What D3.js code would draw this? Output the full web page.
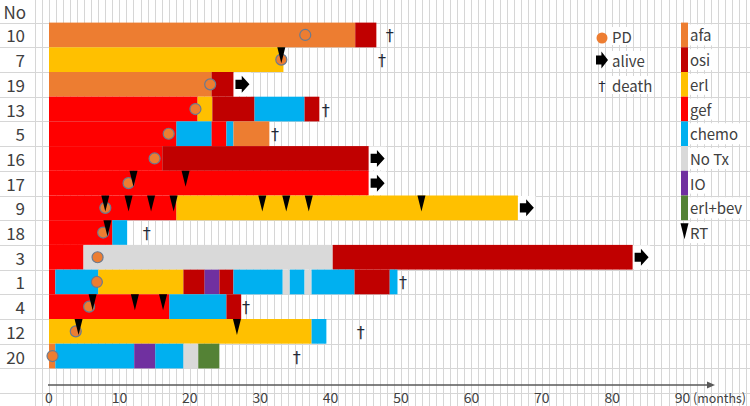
<!DOCTYPE html>
<html><head><meta charset="utf-8">
<script src="https://cdn.jsdelivr.net/npm/d3@7"></script>
<style>body{margin:0;background:#fff}svg{display:block}</style>
</head><body><svg id="c" width="750" height="406"></svg>
<script>
// ---- data ----
const patients = ["10","7","19","13","5","16","17","9","18","3","1","4","12","20"];
const treatments = ["afa","osi","erl","gef","chemo","No Tx","IO","erl+bev"];
const segments = [
  ["10","afa",0,43.5],["10","osi",43.5,46.5],
  ["7","erl",0,33.3],
  ["19","afa",0,23.1],["19","osi",23.1,26.2],
  ["13","gef",0,21.1],["13","erl",21.1,23.2],["13","osi",23.2,29.2],["13","chemo",29.2,36.3],["13","osi",36.3,38.4],
  ["5","gef",0,18.1],["5","chemo",18.1,23.1],["5","gef",23.1,25.2],["5","chemo",25.2,26.2],["5","afa",26.2,31.3],
  ["16","gef",0,16.1],["16","osi",16.1,45.4],
  ["17","gef",0,45.4],
  ["9","gef",0,18.1],["9","erl",18.1,66.6],
  ["18","gef",0,9],["18","chemo",9,11.1],
  ["3","gef",0,4.9],["3","No Tx",4.9,40.3],["3","osi",40.3,82.9],
  ["1","gef",0,0.9],["1","chemo",0.9,7],["1","erl",7,19.1],["1","osi",19.1,22.1],["1","IO",22.1,24.2],["1","osi",24.2,26.2],
  ["1","chemo",26.2,33.2],["1","No Tx",33.2,34.2],["1","chemo",34.2,36.3],["1","No Tx",36.3,37.3],["1","chemo",37.3,43.4],
  ["1","osi",43.4,48.4],["1","chemo",48.4,49.5],
  ["4","gef",0,17.1],["4","chemo",17.1,25.2],["4","osi",25.2,27.3],
  ["12","erl",0,37.3],["12","chemo",37.3,39.4],
  ["20","afa",0,0.9],["20","chemo",0.9,12.1],["20","IO",12.1,15.1],["20","chemo",15.1,19.1],["20","No Tx",19.1,21.2],["20","erl+bev",21.2,24.2]
];
const pdEvents = [["10",36.4],["7",33],["19",22.9],["13",20.8],["5",17],["16",15],["17",11.3],["9",8],["18",7.7],["3",6.9],["1",6.8],["4",5.7],["12",3.8],["20",0.5]];
const rtEvents = [["7",33],["17",12],["17",19.4],["9",8],["9",11.3],["9",14.5],["9",17.7],["9",30.3],["9",33.7],["9",36.9],["9",52.9],["18",8.3],["4",6.2],["4",12.2],["4",16.2],["12",4.2],["12",26.7]];
const aliveEvents = [["19",26.2],["16",45.4],["17",45.4],["9",66.6],["3",82.9]];
const deathEvents = [["10",48.4],["7",47.3],["13",39.3],["5",32.1],["18",13.9],["1",50.3],["4",28],["12",44.3],["20",35.2]];
const xTicks = [0,10,20,30,40,50,60,70,80,90];

// ---- styles ----
const colorList = ["#ED7D31","#C00000","#FFC000","#FF0000","#00B0F0","#D9D9D9","#7030A0","#548235"];
const color = d3.scaleOrdinal().domain(treatments).range(colorList);
const FONT = "'Noto Sans CJK JP','Noto Sans',sans-serif";
const TXT = "#404040";
const DAG = "#1f2937";

const svg = d3.select("#c");
const x = d3.scaleLinear().domain([0,90]).range([49,682.6]);
const y = d3.scaleBand().domain(patients).range([22.6, 22.6 + 24.7*patients.length]).padding(0);
const rowH = y.bandwidth();
const cy = p => y(p) + rowH/2;

// grid
const grid = svg.append("g");
const step = x(1) - x(0);
for (let k = -2; k <= 100; k++) {
  const gx = Math.round(x(0) + step*k) + 0.5;
  if (gx > 750) break;
  grid.append("line").attr("x1",gx).attr("x2",gx).attr("y1",0).attr("y2",406).attr("stroke","#d6d6d6").attr("stroke-width",1);
}
for (let k = 0; k <= 16; k++) {
  const gy = Math.round(22.6 + 24.7*k) + 0.5;
  if (gy > 406) break;
  grid.append("line").attr("x1",0).attr("x2",750).attr("y1",gy).attr("y2",gy).attr("stroke","#d6d6d6").attr("stroke-width",1);
}

// row labels
svg.append("text").attr("x",26).attr("y",11).attr("text-anchor","end").attr("dominant-baseline","central")
  .attr("font-family",FONT).attr("font-size",17).attr("fill",TXT).text("No");
svg.append("g").selectAll("text").data(patients).join("text")
  .attr("x",25).attr("y",d=>cy(d)).attr("text-anchor","end").attr("dominant-baseline","central")
  .attr("font-family",FONT).attr("font-size",17).attr("fill",TXT).text(d=>d);

// bars
svg.append("g").selectAll("rect").data(segments).join("rect")
  .attr("x",d=>x(d[2])).attr("width",d=>x(d[3])-x(d[2]))
  .attr("y",d=>y(d[0])).attr("height",rowH)
  .attr("fill",d=>color(d[1]));

// PD circles
svg.append("g").selectAll("circle").data(pdEvents).join("circle")
  .attr("cx",d=>x(d[1])).attr("cy",d=>cy(d[0])).attr("r",5.5)
  .attr("fill","#ED7D31").attr("stroke","#6b7a8f").attr("stroke-width",1.2);

// RT triangles
svg.append("g").selectAll("path").data(rtEvents).join("path")
  .attr("d",d=>{const tx=x(d[1]), ty=y(d[0]); return `M${tx-4},${ty}L${tx+4},${ty}L${tx},${ty+16}Z`;})
  .attr("fill","#000");

// alive arrows
const arrowPath = (ax, ay, w, h) => {
  const sh = h*0.27, hw = w*0.45;
  return `M${ax},${ay-sh}L${ax+hw},${ay-sh}L${ax+hw},${ay-h/2}L${ax+w},${ay}L${ax+hw},${ay+h/2}L${ax+hw},${ay+sh}L${ax},${ay+sh}Z`;
};
const alive = svg.append("g");
alive.selectAll("rect").data(aliveEvents).join("rect")
  .attr("x",d=>x(d[1])+0.5).attr("y",d=>y(d[0])+0.5).attr("width",17).attr("height",rowH-1).attr("fill","#fff");
alive.selectAll("path").data(aliveEvents).join("path")
  .attr("d",d=>arrowPath(x(d[1])+2, cy(d[0]), 14, 17)).attr("fill","#000");

// death daggers
svg.append("g").selectAll("text").data(deathEvents).join("text")
  .attr("x",d=>x(d[1])).attr("y",d=>cy(d[0])+1).attr("text-anchor","middle").attr("dominant-baseline","central")
  .attr("font-family","'DejaVu Sans',sans-serif").attr("font-size",16).attr("fill",DAG).text("†");

// x axis
const axY = 385;
svg.append("line").attr("x1",48).attr("x2",708).attr("y1",axY).attr("y2",axY).attr("stroke","#595959").attr("stroke-width",1.3);
svg.append("path").attr("d",`M707,${axY-3.5}L715,${axY}L707,${axY+3.5}Z`).attr("fill","#595959");
svg.append("g").selectAll("text").data(xTicks).join("text")
  .attr("x",d=>x(d)).attr("y",397).attr("text-anchor","middle").attr("dominant-baseline","central")
  .attr("font-family",FONT).attr("font-size",14).attr("fill",TXT).text(d=>d);
svg.append("text").attr("x",693).attr("y",397).attr("dominant-baseline","central")
  .attr("font-family",FONT).attr("font-size",13).attr("textLength",53).attr("lengthAdjust","spacingAndGlyphs")
  .attr("fill",TXT).text("(months)");

// legend: symbols
const lg = svg.append("g");
const symItems = [["PD",36],["alive",60],["death",85]];
lg.selectAll("rect.bg").data(symItems).join("rect").attr("class","bg")
  .attr("x",610).attr("y",d=>d[1]-9).attr("width",d=>d[0]==="death"?44:(d[0]==="PD"?22:36)).attr("height",18).attr("fill","#fff");
lg.selectAll("text.sym").data(symItems).join("text").attr("class","sym")
  .attr("x",612).attr("y",d=>d[1]).attr("dominant-baseline","central")
  .attr("font-family",FONT).attr("font-size",15).attr("fill",TXT).text(d=>d[0]);
lg.append("circle").attr("cx",602).attr("cy",38).attr("r",5.5).attr("fill","#ED7D31");
lg.append("path").attr("d",arrowPath(596,60,12,17)).attr("fill","#000");
lg.append("text").attr("x",602).attr("y",86).attr("text-anchor","middle").attr("dominant-baseline","central")
  .attr("font-family","'DejaVu Sans',sans-serif").attr("font-size",14).attr("fill",DAG).text("†");

// legend: treatments
const lx = 681, lw = 7, ly0 = 22.6;
lg.selectAll("rect.sw").data(treatments).join("rect").attr("class","sw")
  .attr("x",lx).attr("y",(d,i)=>ly0+24.7*i).attr("width",lw).attr("height",24.7).attr("fill",d=>color(d));
const tl = lg.selectAll("g.tl").data(treatments.concat(["RT"])).join("g").attr("class","tl");
tl.append("text")
  .attr("x",690).attr("y",(d,i)=>ly0+24.7*i+12.35).attr("dominant-baseline","central")
  .attr("font-family",FONT).attr("font-size",15).attr("fill",TXT).text(d=>d);
tl.each(function(){
  const g = d3.select(this), t = g.select("text"), bb = t.node().getBBox();
  g.insert("rect","text").attr("x",bb.x-1).attr("y",bb.y).attr("width",bb.width+3).attr("height",bb.height).attr("fill","#fff");
});
const rtY = ly0 + 24.7*8;
lg.append("path").attr("d",`M${lx-0.5},${rtY+3}L${lx+7.5},${rtY+3}L${lx+3.5},${rtY+19}Z`).attr("fill","#000");
</script></body></html>
